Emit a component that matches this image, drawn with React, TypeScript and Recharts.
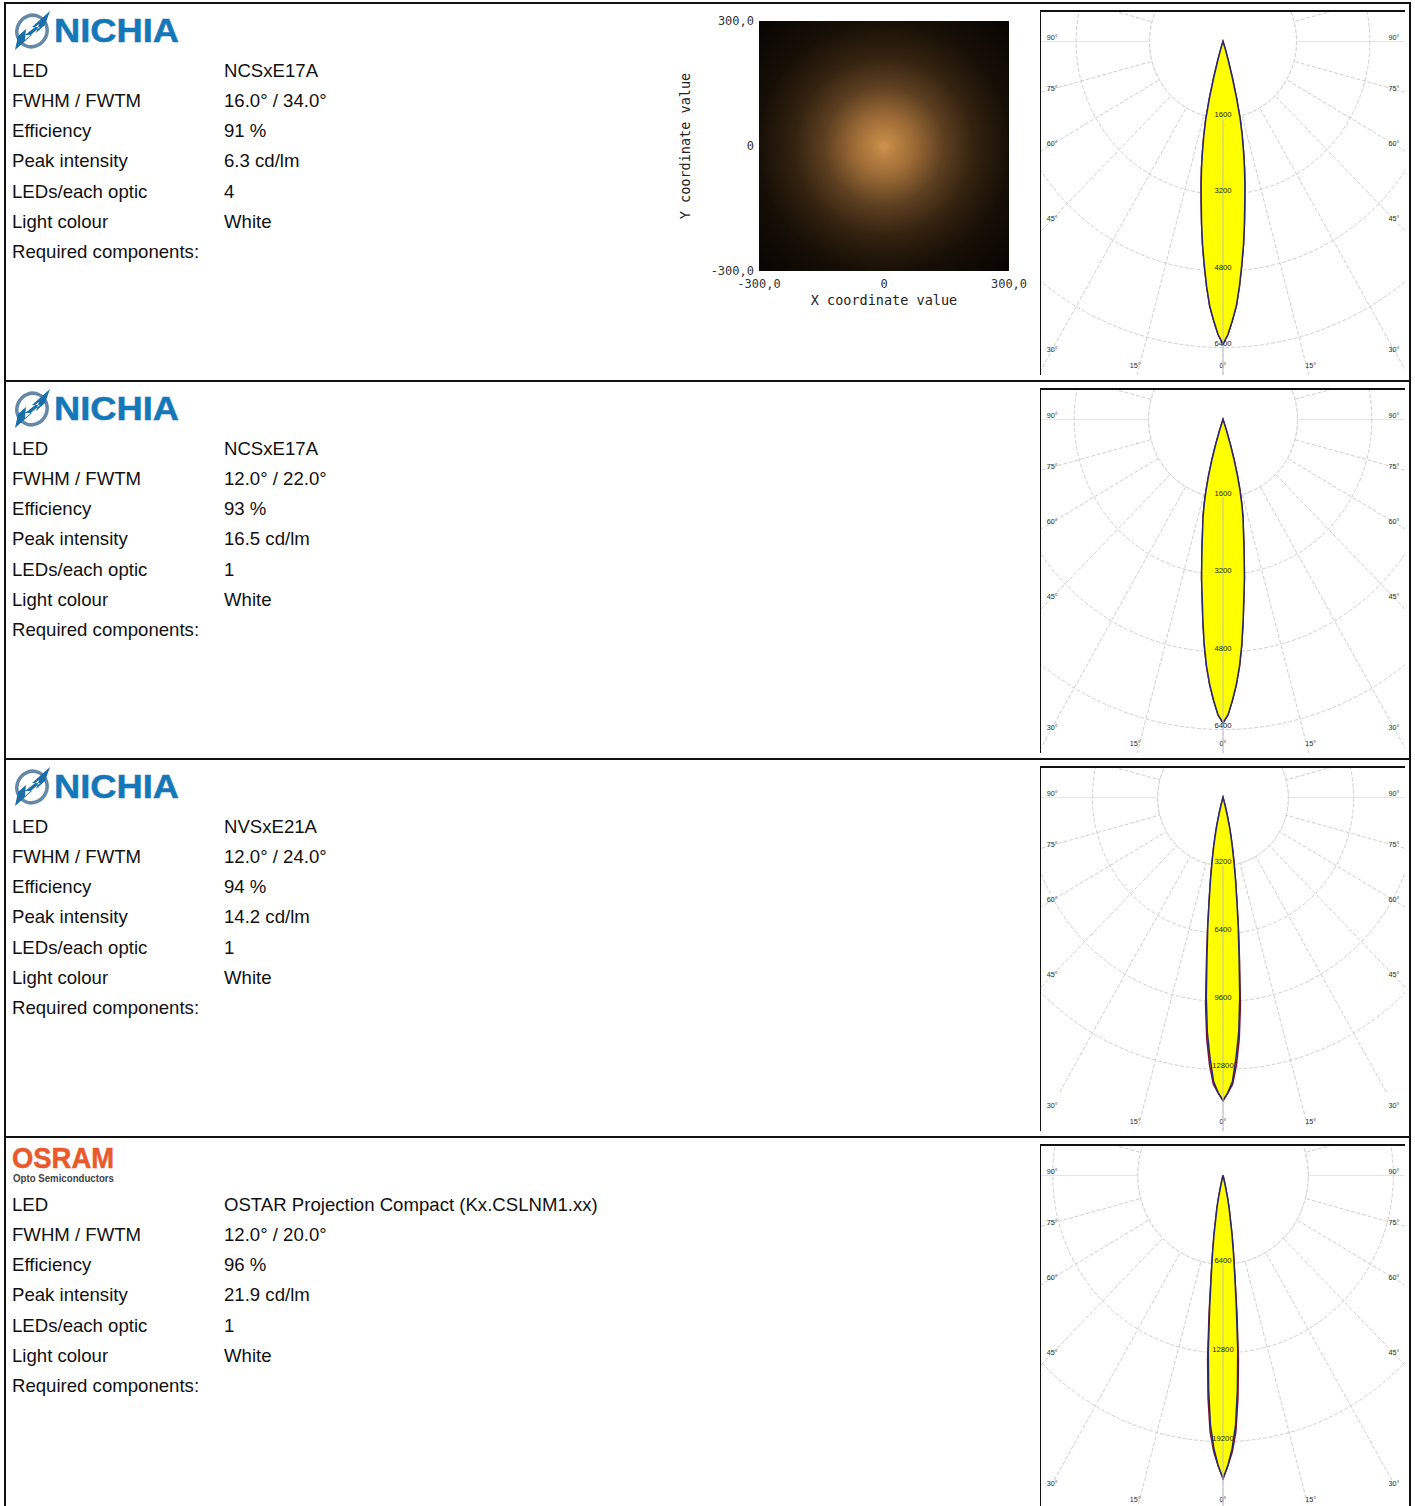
import React from "react";
import {
  RadarChart,
  Radar,
  PolarGrid,
  PolarAngleAxis,
  PolarRadiusAxis,
  ScatterChart,
  Scatter,
  XAxis,
  YAxis,
  ReferenceArea,
  Label,
} from "recharts";

// ---- table text ----
const rowLabels = ["LED", "FWHM / FWTM", "Efficiency", "Peak intensity", "LEDs/each optic", "Light colour", "Required components:"];
const ledNames = ["NCSxE17A", "NCSxE17A", "NVSxE21A", "OSTAR Projection Compact (Kx.CSLNM1.xx)"];
const beamAngles = ["16.0° / 34.0°", "12.0° / 22.0°", "12.0° / 24.0°", "12.0° / 20.0°"];
const efficiencies = ["91 %", "93 %", "94 %", "96 %"];
const peakIntensities = ["6.3 cd/lm", "16.5 cd/lm", "14.2 cd/lm", "21.9 cd/lm"];
const ledCounts = ["4", "1", "1", "1"];
const lightColours = ["White", "White", "White", "White"];
const brands = ["nichia", "nichia", "nichia", "osram"];

// ---- polar plots: intensity per degree off axis ----
const lobe1 = [6330, 6130, 5840, 5540, 5130, 4690, 4270, 3830, 3410, 3050, 2700, 2340, 2010, 1670, 1230, 790, 420, 210, 80];
const lobe2 = [6260, 6100, 5800, 5480, 5100, 4650, 4150, 3680, 3310, 2910, 2580, 2290, 2070, 1800, 1510, 1200, 870, 540, 250, 80];
const lobe3 = [14260, 13880, 13360, 12240, 11060, 9410, 7530, 6120, 4850, 3910, 3110, 2450, 1880, 1360, 800, 380, 90];
const lobe4 = [21860, 20920, 19700, 18040, 15510, 12700, 9600, 7220, 5630, 4330, 3100, 2380, 1590, 720, 220];
const redLobe3 = [14260, 13900, 13500, 12600, 11400, 9800, 7750, 6200, 4850, 3910, 3110, 2450, 1880, 1360, 800, 380, 90];
const redLobe4 = [21860, 20950, 19950, 18500, 16100, 13300, 10000, 7350, 5630, 4330, 3100, 2380, 1590, 720, 220];
const rings1 = [1600, 3200, 4800, 6400];
const rings3 = [3200, 6400, 9600, 12800];
const rings4 = [6400, 12800, 19200];
const spokes = [15, 30, 45, 60, 75, 105];
const labelledAngles = [0, 15, 30, 45, 60, 75, 90];

// ---- light spot plot ----
const spotTicks = [-300, 0, 300];
const spotPeak = [{ x: 0, y: 0 }];
const glowOffsets = ["0%", "16%", "32%", "48%", "67%", "100%"];
const glowColours = ["#cb9049", "#9c6b36", "#5c3f20", "#33220f", "#170f06", "#040201"];

const ROW_H = 378;
const FRAME_W = 364;
const FRAME_H = 363;
const SQUEEZE = 0.96; // the source bitmap is a bit narrower than tall
const CHART_W = FRAME_W / SQUEEZE;
const CX = 189.6;
const CY = 29.5;
const GRID = "#cdcdcd";

const DEGREES = Array.from({ length: 360 }, (_, i) => i);

function buildTable(lobe: number[], red: number[] | undefined, firstRing: number) {
  return DEGREES.map((gamma) => {
    const off = Math.min(gamma, 360 - gamma);
    return {
      gamma,
      mask: firstRing,
      c0: lobe[off] ?? 0,
      c90: (red ?? lobe)[off] ?? 0,
    };
  });
}

function AngleTick(props: any) {
  const gamma = props.payload.value;
  const off = Math.min(gamma, 360 - gamma);
  if (!labelledAngles.includes(off)) return <g />;
  // labels sit on the edge of the picture, along their spoke
  const rad = (off * Math.PI) / 180;
  const sign = gamma > 180 ? 1 : -1;
  let dx = 178;
  let dy = off === 90 ? -4 : dx / Math.tan(rad);
  if (dy > 325) {
    dy = 325;
    dx = dy * Math.tan(rad) * 1.05;
  }
  return (
    <text x={CX + sign * dx} y={CY + dy + 2} textAnchor="middle" fontSize={7.5} fill="#2a2a2a" fontFamily="Liberation Sans">
      {off}°
    </text>
  );
}

function RingTick(props: any) {
  return (
    <g>
      {/* the 0 degree spoke shows through the lobe, from the first ring down */}
      {props.index === 0 && <line x1={CX} y1={props.y} x2={CX} y2={FRAME_H} stroke="#bdbdbd" />}
      <text x={CX} y={props.y - 1} textAnchor="middle" fontSize={8} fill="#222" fontFamily="Liberation Sans">
        {props.payload.value}
      </text>
    </g>
  );
}

function YAxisTitle() {
  return (
    <text x={20} y={141} transform="rotate(-90 20 141)" textAnchor="middle" fill="#222" fontSize={13.5} fontFamily="DejaVu Sans Mono">
      Y coordinate value
    </text>
  );
}

function PolarPlot({ top, lobe, red, rings, ringPx }: { top: number; lobe: number[]; red?: number[]; rings: number[]; ringPx: number }) {
  const step = rings[1] - rings[0];
  const count = rings.length + 1;
  const data = buildTable(lobe, red, rings[0]);
  const spokeAngles = [-90, ...spokes.flatMap((s) => [-90 - s, -90 + s])];
  return (
    <div
      style={{
        position: "absolute",
        left: 1040,
        top,
        width: FRAME_W,
        height: FRAME_H,
        borderTop: "2px solid #111",
        borderLeft: "1px solid #111",
        overflow: "hidden",
      }}
    >
      <div style={{ width: CHART_W, height: FRAME_H, transform: `scaleX(${SQUEEZE})`, transformOrigin: "0 0" }}>
        <RadarChart
          width={CHART_W}
          height={FRAME_H}
          data={data}
          cx={CX}
          cy={CY}
          innerRadius={0}
          outerRadius={ringPx * count}
          startAngle={-90}
          endAngle={-450}
          margin={{ top: 0, right: 0, bottom: 0, left: 0 }}
        >
          <PolarGrid polarAngles={[-180, 0]} polarRadius={[]} gridType="circle" stroke="#e4e4e4" />
          <PolarGrid
            gridType="circle"
            polarAngles={spokeAngles}
            polarRadius={rings.map((_, i) => ringPx * (i + 1))}
            stroke={GRID}
            strokeDasharray="4 2"
          />
          <PolarAngleAxis dataKey="gamma" tick={AngleTick} tickLine={false} axisLine={false} />
          <PolarRadiusAxis
            angle={-90}
            type="number"
            domain={[0, step * count]}
            ticks={rings}
            tick={RingTick}
            tickLine={false}
            axisLine={false}
          />
          <Radar dataKey="mask" fill="#fff" fillOpacity={1} stroke={GRID} strokeDasharray="4 2" dot={false} isAnimationActive={false} />
          <Radar dataKey="c90" fill="#ffff00" fillOpacity={1} stroke="#7d1238" strokeWidth={1.6} dot={false} isAnimationActive={false} />
          <Radar dataKey="c0" fill="#ffff00" fillOpacity={1} stroke="#28286e" strokeWidth={1.6} dot={false} isAnimationActive={false} />
        </RadarChart>
      </div>
    </div>
  );
}

function SpotPlot() {
  return (
    <div style={{ position: "absolute", left: 670, top: 5 }}>
      <ScatterChart width={370} height={320} margin={{ top: 16, right: 31, bottom: 12, left: 35 }}>
        <defs>
          <radialGradient id="glow" cx="50%" cy="50%" r="75%">
            {glowOffsets.map((o, i) => (
              <stop key={o} offset={o} stopColor={glowColours[i]} />
            ))}
          </radialGradient>
        </defs>
        <XAxis
          type="number"
          dataKey="x"
          domain={[-300, 300]}
          ticks={spotTicks}
          tickFormatter={(v: number) => (v === 0 ? "0" : `${v},0`)}
          tick={{ fill: "#333", fontSize: 12, fontFamily: "DejaVu Sans Mono" }}
          tickLine={false}
          axisLine={false}
          height={42}
          label={{ value: "X coordinate value", position: "insideBottom", offset: 8, fill: "#222", fontSize: 13.5, fontFamily: "DejaVu Sans Mono" }}
        />
        <YAxis
          type="number"
          dataKey="y"
          domain={[-300, 300]}
          ticks={spotTicks}
          tickFormatter={(v: number) => (v === 0 ? "0" : `${v},0`)}
          tick={{ fill: "#333", fontSize: 12, fontFamily: "DejaVu Sans Mono" }}
          tickLine={false}
          tickSize={3}
          axisLine={false}
          width={54}
        >
          <Label content={YAxisTitle} />
        </YAxis>
        <ReferenceArea x1={-300} x2={300} y1={-300} y2={300} fill="url(#glow)" fillOpacity={1} stroke="none" />
        <Scatter data={spotPeak} fill={glowColours[0]} isAnimationActive={false} shape="circle" />
      </ScatterChart>
    </div>
  );
}

function NichiaLogo({ top }: { top: number }) {
  return (
    <svg style={{ position: "absolute", left: 12, top }} width={172} height={42}>
      <ellipse cx={20} cy={21} rx={15} ry={16} fill="none" stroke="#6488a6" strokeWidth={3.5} transform="rotate(25 20 21)" />
      <path d="M38 1 L20 17 L28 17 L13 30 L14 19 L6 26 L3 40 L20 25 L13 25 L27 14 L24 23 L33 15 Z" fill="#1a6fa8" />
      <text x={42} y={32} fontFamily="Liberation Sans" fontWeight="bold" fontSize={34} fill="#1478b8" stroke="#1478b8" strokeWidth={0.5} textLength={125} lengthAdjust="spacingAndGlyphs">
        NICHIA
      </text>
    </svg>
  );
}

function OsramLogo({ top }: { top: number }) {
  return (
    <svg style={{ position: "absolute", left: 12, top }} width={130} height={50}>
      <text x={0} y={24} fontFamily="Liberation Sans" fontWeight="bold" fontSize={29} fill="#e8592c" stroke="#e8592c" strokeWidth={0.5} textLength={102} lengthAdjust="spacingAndGlyphs">
        OSRAM
      </text>
      <text x={1} y={38} fontFamily="Liberation Sans" fontWeight="bold" fontSize={10} fill="#444" textLength={101} lengthAdjust="spacingAndGlyphs">
        Opto Semiconductors
      </text>
    </svg>
  );
}

const textStyle: React.CSSProperties = {
  position: "absolute",
  fontFamily: "Liberation Sans",
  fontSize: 18.6,
  lineHeight: "20px",
  color: "#111",
  whiteSpace: "nowrap",
};

function Row({ index }: { index: number }) {
  const y = index * ROW_H;
  const values = [ledNames[index], beamAngles[index], efficiencies[index], peakIntensities[index], ledCounts[index], lightColours[index]];
  return (
    <>
      {brands[index] === "nichia" ? <NichiaLogo top={y + 10} /> : <OsramLogo top={y + 10} />}
      {rowLabels.map((label, i) => (
        <div key={label} style={{ ...textStyle, left: 12, top: y + 61 + Math.round(i * 30.15) }}>
          {label}
        </div>
      ))}
      {values.map((value, i) => (
        <div key={i} style={{ ...textStyle, left: 224, top: y + 61 + Math.round(i * 30.15) }}>
          {value}
        </div>
      ))}
    </>
  );
}

export default function App() {
  return (
    <div style={{ position: "absolute", left: 0, top: 0, width: 1415, height: 1506, overflow: "hidden", background: "#fff" }}>
      {/* table frame, only horizontal rules between the rows */}
      <div style={{ position: "absolute", left: 4, top: 2, width: 1407, height: 1600, border: "2px solid #111", boxSizing: "border-box" }} />
      {[0, 1, 2].map((i) => (
        <div key={i} style={{ position: "absolute", left: 4, top: 380 + i * ROW_H, width: 1407, height: 2, background: "#111" }} />
      ))}
      {[0, 1, 2, 3].map((i) => (
        <Row key={i} index={i} />
      ))}
      <SpotPlot />
      <PolarPlot top={10} lobe={lobe1} rings={rings1} ringPx={76.5} />
      <PolarPlot top={388} lobe={lobe2} rings={rings1} ringPx={77.5} />
      <PolarPlot top={766} lobe={lobe3} red={redLobe3} rings={rings3} ringPx={68} />
      <PolarPlot top={1144} lobe={lobe4} red={redLobe4} rings={rings4} ringPx={88.7} />
    </div>
  );
}
